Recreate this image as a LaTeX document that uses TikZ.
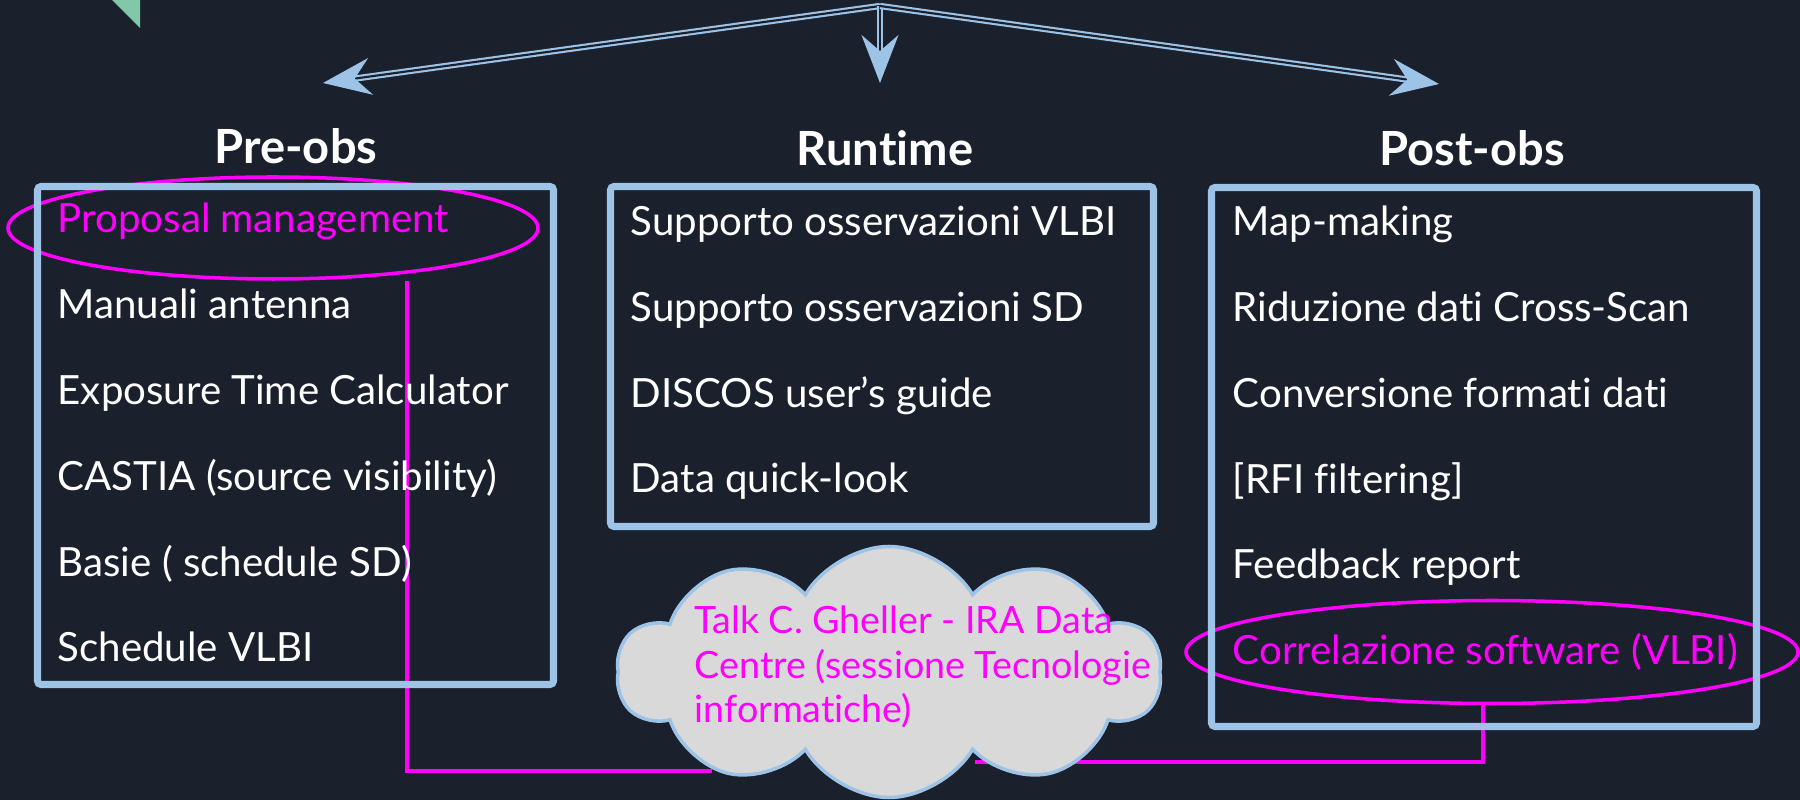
\documentclass[tikz,border=0pt]{standalone}
\usepackage{fontspec}
\setmainfont{Lato}[Ligatures=NoCommon]
\usetikzlibrary{arrows.meta,shapes.geometric,shapes.symbols}
\definecolor{bg}{RGB}{27,32,45}
\definecolor{boxblue}{RGB}{157,195,230}
\definecolor{hilite}{RGB}{255,0,255}
\definecolor{cloudgray}{RGB}{217,217,217}
\definecolor{mint}{RGB}{130,200,168}

\begin{document}
\begin{tikzpicture}[
    box/.style={draw=boxblue,line width=2pt,rounded corners=1pt,inner sep=0pt},
    item/.style={anchor=base west,text=white,inner sep=0pt,font=\fontsize{11.45}{14}\selectfont},
    head/.style={anchor=base,text=white,inner sep=0pt,font=\fontsize{13.4}{16}\selectfont\bfseries},
    ring/.style={ellipse,draw=hilite,line width=1pt,inner sep=0pt},
    link/.style={draw=hilite,line width=1.1pt},
    branch/.style={boxblue,line width=0.6pt,double=bg,double distance=0.6pt,
        -{Stealth[length=4.8mm,width=3.7mm,inset=1.6mm]}}
]
    \useasboundingbox (0,0) rectangle (18,-8);
    \fill[bg] (0,0) rectangle (18,-8);
    \fill[mint] (1.12,0)--(1.40,0)--(1.40,-0.28)--cycle;

    % three branches
    \coordinate (apex) at (8.80,-0.06);
    \coordinate (toPre) at (3.23,-0.83);
    \coordinate (toRun) at (8.80,-0.83);
    \coordinate (toPost) at (14.39,-0.84);
    \draw[branch] (apex)--(toPre);
    \draw[branch] (apex)--(toRun);
    \draw[branch] (apex)--(toPost);

    \node[head] (hPre) at (2.96,-1.64){Pre-obs};
    \node[head] (hRun) at (8.85,-1.66){Runtime};
    \node[head] (hPost) at (14.72,-1.66){Post-obs};

    % highlighted items and links to the cloud
    \node[ring,minimum width=5.30cm,minimum height=1.02cm] (propRing) at (2.73,-2.28){};
    \node[ring,minimum width=6.12cm,minimum height=1.03cm] (corrRing) at (14.92,-6.52){};
    \coordinate (cl1) at (7.12,-7.71);
    \coordinate (cl2) at (9.75,-7.62);
    \draw[link] ([xshift=1.34cm]propRing.south) |- (cl1);
    \draw[link] ([xshift=-0.09cm]corrRing.south) |- (cl2);

    \node[box,minimum width=5.16cm,minimum height=4.98cm] (preBox) at (2.955,-4.355){};
    \node[box,minimum width=5.43cm,minimum height=3.40cm] (runBox) at (8.82,-3.565){};
    \node[box,minimum width=5.45cm,minimum height=5.39cm] (postBox) at (14.84,-4.57){};

    \node[item,text=hilite] (pre1) at (0.57,-2.33){Proposal management};
    \node[item] (pre2) at (0.57,-3.19){Manuali antenna};
    \node[item] (pre3) at (0.57,-4.05){Exposure Time Calculator};
    \node[item] (pre4) at (0.57,-4.91){CASTIA (source visibility)};
    \node[item] (pre5) at (0.57,-5.77){Basie ( schedule SD)};
    \node[item] (pre6) at (0.57,-6.62){Schedule VLBI};

    \node[item] (run1) at (6.30,-2.36){Supporto osservazioni VLBI};
    \node[item] (run2) at (6.30,-3.22){Supporto osservazioni SD};
    \node[item] (run3) at (6.30,-4.08){DISCOS user’s guide};
    \node[item] (run4) at (6.30,-4.93){Data quick-look};

    \node[item] (post1) at (12.32,-2.36){Map-making};
    \node[item] (post2) at (12.32,-3.22){Riduzione dati Cross-Scan};
    \node[item] (post3) at (12.32,-4.08){Conversione formati dati};
    \node[item] (post4) at (12.32,-4.94){[RFI filtering]};
    \node[item] (post5) at (12.32,-5.79){Feedback report};
    \node[item,text=hilite] (post6) at (12.32,-6.65){Correlazione software (VLBI)};

    % cloud
    \node[cloud,cloud puffs=10,cloud puff arc=120,aspect=2.17,draw=boxblue,fill=cloudgray,
        line width=1pt,minimum width=5.44cm,minimum height=2.51cm] (cloud) at (8.89,-6.72){};
    \node[anchor=base west,align=left,text=hilite,inner sep=0pt,
        font=\fontsize{10.7}{12.8}\selectfont] (talk) at (6.94,-7.23)
        {Talk C. Gheller - IRA Data\\Centre (sessione Tecnologie\\informatiche)};
\end{tikzpicture}
\end{document}
